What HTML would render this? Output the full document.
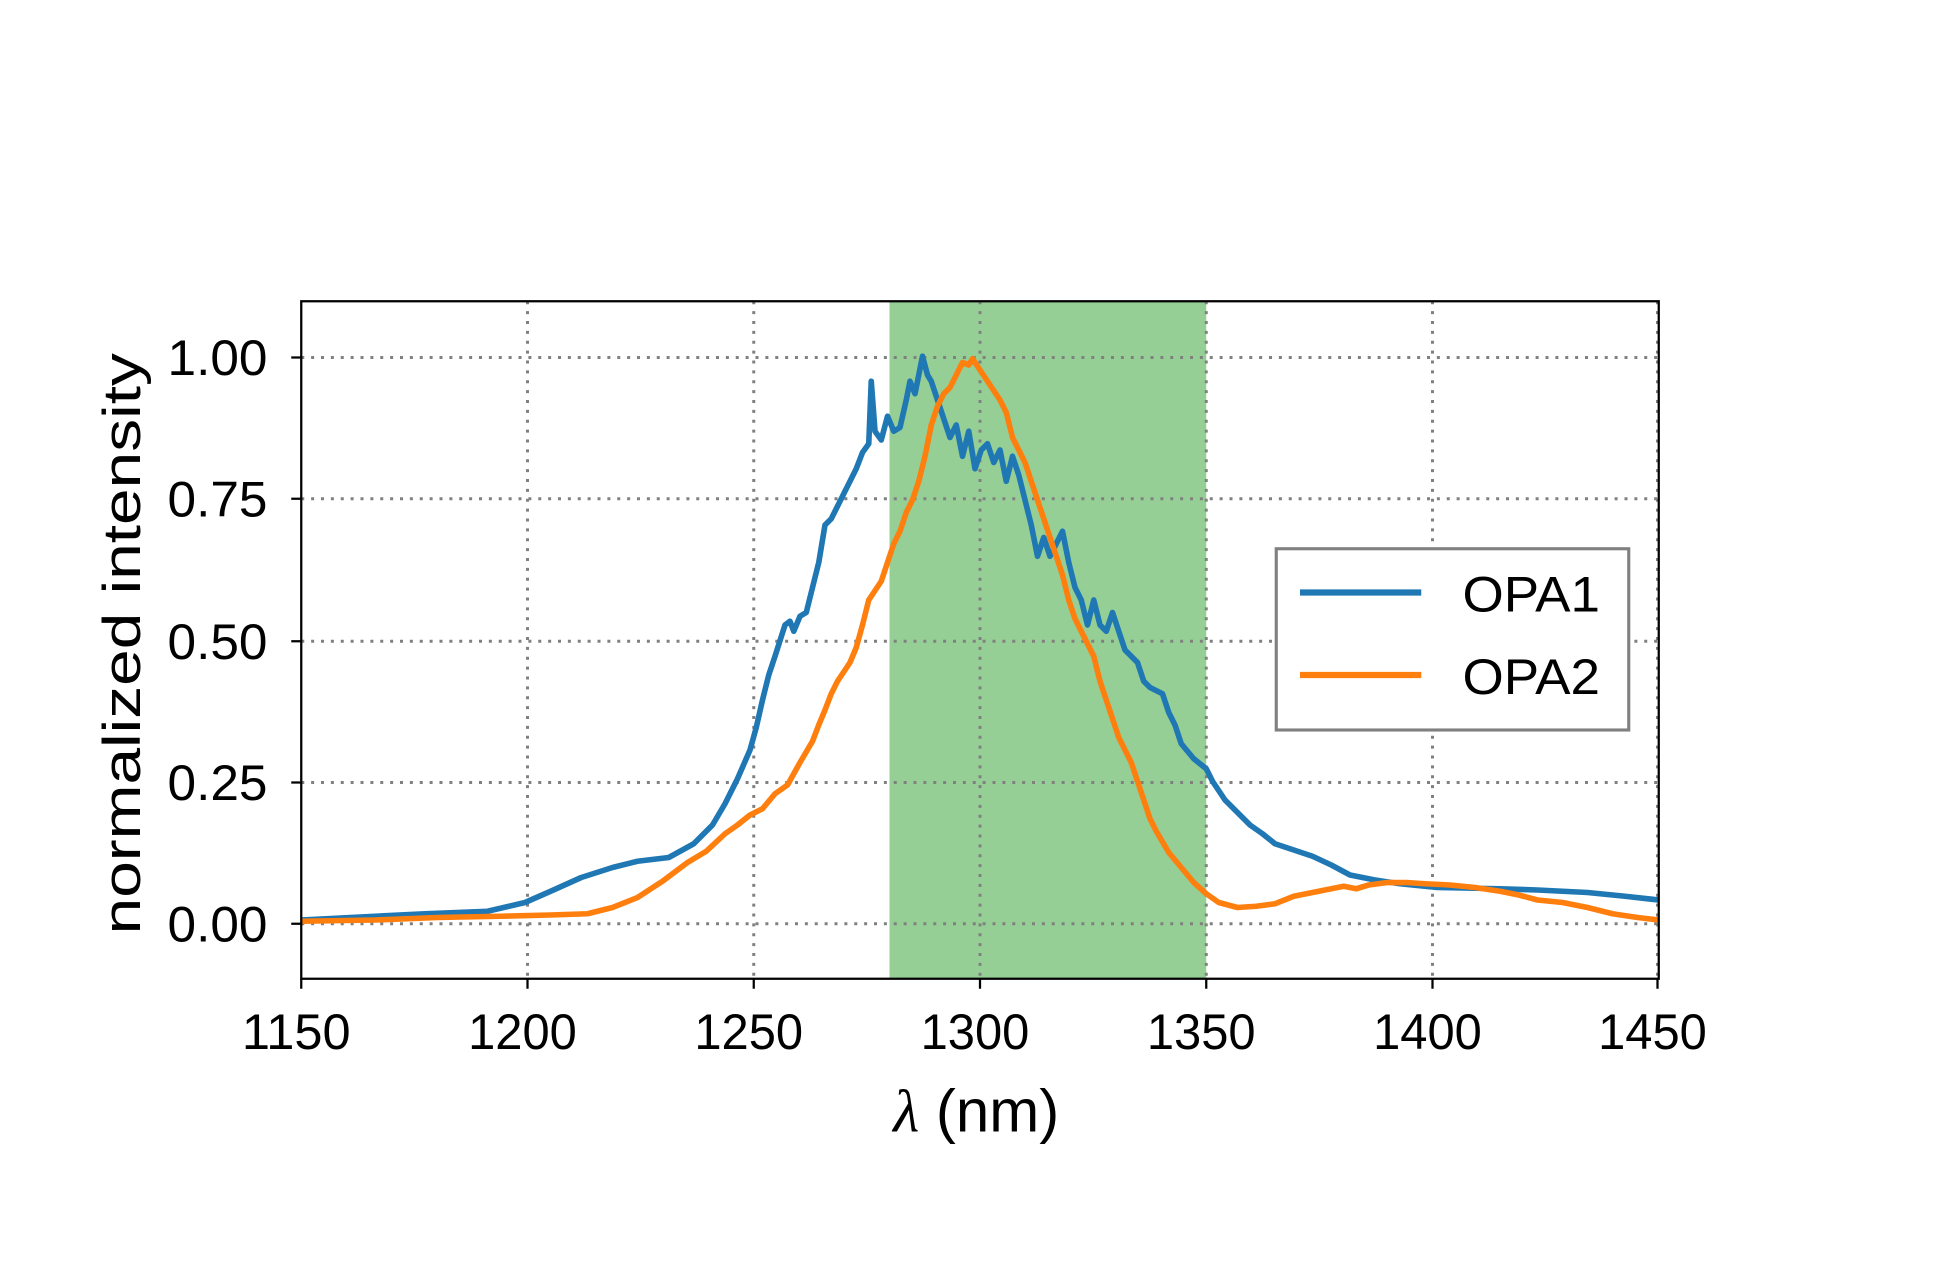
<!DOCTYPE html>
<html><head><meta charset="utf-8"><style>html,body{margin:0;padding:0;background:#fff}svg{display:block}</style></head>
<body>
<svg width="1950" height="1275" viewBox="0 0 1560 1020" xmlns="http://www.w3.org/2000/svg" font-family="Liberation Sans, sans-serif">
<rect width="1560" height="1020" fill="#fff"/>
<rect x="711.6" y="241" width="253.4" height="542" fill="#95cf95"/>
<g stroke="#808080" stroke-width="2.4" stroke-dasharray="2.4,5.5" fill="none">
<line x1="422" y1="241" x2="422" y2="783"/><line x1="603" y1="241" x2="603" y2="783"/>
<line x1="784" y1="241" x2="784" y2="783"/><line x1="965" y1="241" x2="965" y2="783"/>
<line x1="1146" y1="241" x2="1146" y2="783"/><line x1="1326" y1="241" x2="1326" y2="783"/>
<line x1="241" y1="739" x2="1327" y2="739"/><line x1="241" y1="626" x2="1327" y2="626"/>
<line x1="241" y1="513" x2="1327" y2="513"/><line x1="241" y1="399" x2="1327" y2="399"/>
<line x1="241" y1="286" x2="1327" y2="286"/>
</g>
<polyline fill="none" stroke="#1f77b4" stroke-width="4.5" stroke-linejoin="round" points="241,736 300,733 340,731 390,729 420,722 445,711 465,702 490,694 510,689 535,686 555,675 570,660 580,643 590,623 600,600 605,582 610,560 615,540 620,525 628,500 632,497 635,505 640,493 645,490 650,470 655,450 660,420 665,415 670,405 675,395 680,385 685,375 690,362 695,355 697,305 700,345 705,352 710,333 715,345 720,342 725,320 728,305 732,315 735,300 738,285 742,300 745,305 750,320 755,335 760,350 765,340 770,365 775,345 780,375 785,360 790,355 795,370 800,360 805,385 810,365 815,380 820,400 825,420 830,445 835,430 840,445 845,435 850,425 855,450 860,470 865,480 870,500 875,480 880,500 885,505 890,490 895,505 900,520 905,525 910,530 915,545 920,550 930,555 935,570 940,580 945,595 955,607 965,615 970,625 980,640 990,650 1000,660 1010,667 1020,675 1035,680 1050,685 1065,692 1080,700 1100,704 1120,707 1150,710 1200,711 1230,712 1270,714 1300,717 1327,720"/>
<polyline fill="none" stroke="#ff7f0e" stroke-width="4.5" stroke-linejoin="round" points="241,737 300,736 350,734 400,733 440,732 470,731 490,726 510,718 530,705 550,690 565,681 580,667 590,660 600,652 610,647 620,635 630,628 640,610 650,593 655,580 660,568 665,555 670,545 680,530 685,518 690,500 695,480 705,465 710,450 715,435 720,425 725,410 730,400 735,385 740,365 745,340 750,325 755,315 760,310 765,300 770,290 775,292 778,287 782,293 790,305 800,320 805,330 810,350 815,360 820,370 825,385 830,400 835,415 840,430 845,445 850,460 855,480 860,495 865,505 870,515 875,525 880,545 885,560 890,575 895,590 900,600 905,610 910,625 915,640 920,655 925,665 935,682 945,694 955,706 965,715 975,722 990,726 1005,725 1020,723 1035,717 1050,714 1065,711 1075,709 1085,711 1095,708 1110,706 1125,706 1140,707 1160,708 1180,710 1200,713 1215,716 1230,720 1250,722 1270,726 1290,731 1310,734 1327,736"/>
<rect x="241" y="241" width="1086" height="542" fill="none" stroke="#000" stroke-width="1.8"/>
<g stroke="#000" stroke-width="1.8">
<line x1="241" y1="783" x2="241" y2="791"/><line x1="422" y1="783" x2="422" y2="791"/><line x1="603" y1="783" x2="603" y2="791"/><line x1="784" y1="783" x2="784" y2="791"/><line x1="965" y1="783" x2="965" y2="791"/><line x1="1146" y1="783" x2="1146" y2="791"/><line x1="1326" y1="783" x2="1326" y2="791"/>
<line x1="233" y1="739" x2="241" y2="739"/><line x1="233" y1="626" x2="241" y2="626"/><line x1="233" y1="513" x2="241" y2="513"/><line x1="233" y1="399" x2="241" y2="399"/><line x1="233" y1="286" x2="241" y2="286"/>
</g>
<g font-size="40" text-anchor="middle" fill="#000">
<text x="237" y="839" textLength="87" lengthAdjust="spacingAndGlyphs">1150</text>
<text x="418" y="839" textLength="87" lengthAdjust="spacingAndGlyphs">1200</text>
<text x="599" y="839" textLength="87" lengthAdjust="spacingAndGlyphs">1250</text>
<text x="780" y="839" textLength="87" lengthAdjust="spacingAndGlyphs">1300</text>
<text x="961" y="839" textLength="87" lengthAdjust="spacingAndGlyphs">1350</text>
<text x="1142" y="839" textLength="87" lengthAdjust="spacingAndGlyphs">1400</text>
<text x="1322" y="839" textLength="87" lengthAdjust="spacingAndGlyphs">1450</text>
</g>
<g font-size="40" text-anchor="end" fill="#000">
<text x="214" y="753" textLength="80" lengthAdjust="spacingAndGlyphs">0.00</text>
<text x="214" y="640" textLength="80" lengthAdjust="spacingAndGlyphs">0.25</text>
<text x="214" y="527" textLength="80" lengthAdjust="spacingAndGlyphs">0.50</text>
<text x="214" y="413" textLength="80" lengthAdjust="spacingAndGlyphs">0.75</text>
<text x="214" y="300" textLength="80" lengthAdjust="spacingAndGlyphs">1.00</text>
</g>
<text x="781" y="905" font-size="48" text-anchor="middle"><tspan font-style="italic" font-family="Liberation Serif, serif">λ</tspan> (nm)</text>
<text transform="translate(112,515) rotate(-90)" font-size="42" text-anchor="middle" textLength="465" lengthAdjust="spacingAndGlyphs">normalized intensity</text>
<rect x="1021" y="439" width="282" height="145" fill="#fff" stroke="#808080" stroke-width="2.5"/>
<line x1="1040" y1="474" x2="1137" y2="474" stroke="#1f77b4" stroke-width="5"/>
<line x1="1040" y1="540" x2="1137" y2="540" stroke="#ff7f0e" stroke-width="5"/>
<text x="1170" y="489" font-size="40" textLength="110" lengthAdjust="spacingAndGlyphs">OPA1</text>
<text x="1170" y="555" font-size="40" textLength="110" lengthAdjust="spacingAndGlyphs">OPA2</text>
</svg>
</body></html>
